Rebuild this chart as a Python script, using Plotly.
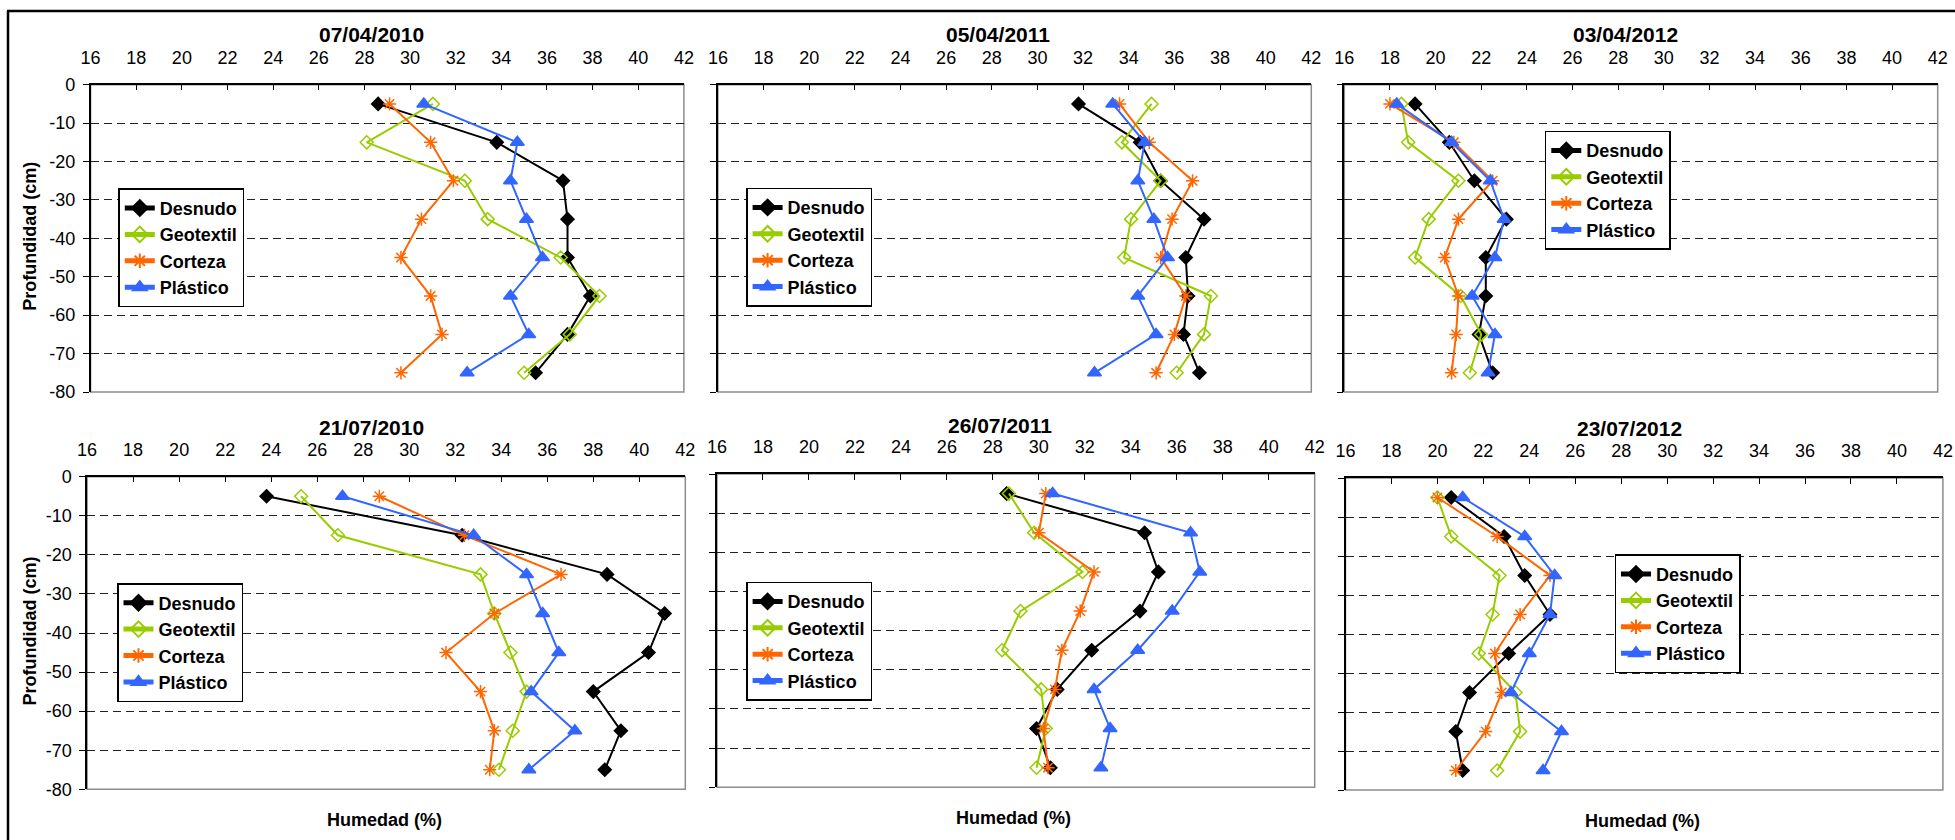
import plotly.graph_objects as go

W, H = 1955, 840

# ---------------- data ----------------
depth = [-5, -15, -25, -35, -45, -55, -65, -75]
dates = ["07/04/2010", "05/04/2011", "03/04/2012", "21/07/2010", "26/07/2011", "23/07/2012"]
series_names = ["Desnudo", "Geotextil", "Corteza", "Plástico"]
x_ticks = list(range(16, 43, 2))
y_ticks = list(range(0, -81, -10))

# 07/04/2010
p1_desnudo = [28.6, 33.8, 36.7, 36.9, 36.9, 37.9, 36.9, 35.5]
p1_geotextil = [31.0, 28.1, 32.4, 33.4, 36.6, 38.3, 37.0, 35.0]
p1_corteza = [29.1, 30.9, 31.9, 30.5, 29.6, 30.9, 31.4, 29.6]
p1_plastico = [30.6, 34.7, 34.4, 35.1, 35.8, 34.4, 35.2, 32.5]
# 05/04/2011
p2_desnudo = [31.8, 34.5, 35.4, 37.3, 36.5, 36.6, 36.4, 37.1]
p2_geotextil = [35.0, 33.7, 35.4, 34.1, 33.8, 37.6, 37.3, 36.1]
p2_corteza = [33.6, 34.9, 36.8, 35.9, 35.4, 36.5, 36.0, 35.2]
p2_plastico = [33.3, 34.7, 34.4, 35.1, 35.7, 34.4, 35.2, 32.5]
# 03/04/2012
p3_desnudo = [19.1, 20.6, 21.7, 23.1, 22.2, 22.2, 21.9, 22.5]
p3_geotextil = [18.5, 18.8, 21.0, 19.7, 19.1, 21.1, 22.0, 21.5]
p3_corteza = [18.0, 20.8, 22.5, 21.0, 20.4, 21.0, 20.9, 20.7]
p3_plastico = [18.3, 20.7, 22.4, 23.0, 22.6, 21.6, 22.6, 22.3]
# 21/07/2010
p4_desnudo = [23.8, 32.3, 38.6, 41.1, 40.4, 38.0, 39.2, 38.5]
p4_geotextil = [25.3, 26.9, 33.1, 33.7, 34.4, 35.1, 34.5, 33.9]
p4_corteza = [28.7, 32.4, 36.6, 33.7, 31.6, 33.1, 33.7, 33.5]
p4_plastico = [27.1, 32.8, 35.1, 35.8, 36.5, 35.3, 37.2, 35.2]
# 26/07/2011
p5_desnudo = [28.6, 34.6, 35.2, 34.4, 32.3, 30.8, 29.9, 30.5]
p5_geotextil = [28.7, 29.8, 31.9, 29.2, 28.4, 30.1, 30.3, 29.9]
p5_corteza = [30.3, 30.0, 32.4, 31.8, 31.0, 30.7, 30.2, 30.4]
p5_plastico = [30.6, 36.6, 37.0, 35.8, 34.3, 32.4, 33.1, 32.7]
# 23/07/2012
p6_desnudo = [20.6, 22.9, 23.8, 24.9, 23.1, 21.4, 20.8, 21.1]
p6_geotextil = [20.0, 20.6, 22.7, 22.4, 21.8, 23.4, 23.6, 22.6]
p6_corteza = [20.0, 22.6, 24.9, 23.6, 22.5, 22.8, 22.1, 20.8]
p6_plastico = [21.1, 23.8, 25.1, 24.9, 24.0, 23.2, 25.4, 24.6]

panel_data = [
    [p1_desnudo, p1_geotextil, p1_corteza, p1_plastico],
    [p2_desnudo, p2_geotextil, p2_corteza, p2_plastico],
    [p3_desnudo, p3_geotextil, p3_corteza, p3_plastico],
    [p4_desnudo, p4_geotextil, p4_corteza, p4_plastico],
    [p5_desnudo, p5_geotextil, p5_corteza, p5_plastico],
    [p6_desnudo, p6_geotextil, p6_corteza, p6_plastico],
]

# ---------------- styles / geometry (pixels) ----------------
FONT = "Liberation Sans, Arial, sans-serif"
styles = [
    dict(color="#000000", symbol="diamond", size=10),
    dict(color="#99CC00", symbol="diamond-open", size=10),
    dict(color="#FF6600", symbol="asterisk-open", size=11),
    dict(color="#3366FF", symbol="triangle-up", size=12),
]

# plot area: x0, x1, y0(top), y1(bottom); title center (x, y); legend top-left (x, y)
geom = [
    dict(x0=90.6, x1=683.9, y0=84.7, y1=392.0, tx=371, ty=35, lx=118.3, ly=188.3),
    dict(x0=717.9, x1=1311.3, y0=84.7, y1=392.0, tx=998, ty=35, lx=746.1, ly=187.7),
    dict(x0=1344.3, x1=1937.7, y0=84.7, y1=392.0, tx=1625, ty=35, lx=1544.8, ly=130.7),
    dict(x0=87.1, x1=685.3, y0=476.7, y1=789.3, tx=371, ty=427, lx=117.0, ly=583.0),
    dict(x0=717.0, x1=1314.7, y0=474.0, y1=787.3, tx=1000, ty=425, lx=746.1, ly=581.7),
    dict(x0=1345.5, x1=1942.9, y0=478.0, y1=790.0, tx=1629, ty=428, lx=1614.5, ly=554.3),
]


def fx(px):
    return px / W


def fy(py):
    return 1 - py / H


fig = go.Figure()
layout = dict(
    width=W, height=H,
    margin=dict(l=0, r=0, t=0, b=0),
    paper_bgcolor="white", plot_bgcolor="white",
    font=dict(family=FONT, size=18, color="black"),
    showlegend=True,
)
annotations = []
shapes = []

for i, g in enumerate(geom):
    n = i + 1
    xa = "x" if n == 1 else f"x{n}"
    ya = "y" if n == 1 else f"y{n}"
    lg = "legend" if n == 1 else f"legend{n}"
    for s, (name, vals) in enumerate(zip(series_names, panel_data[i])):
        st = styles[s]
        fig.add_trace(go.Scatter(
            x=vals, y=depth, name=name, mode="lines+markers",
            xaxis=xa, yaxis=ya, legend=lg,
            line=dict(color=st["color"], width=2),
            marker=dict(symbol=st["symbol"], size=st["size"], color=st["color"],
                        line=dict(color=st["color"], width=1.5)),
            cliponaxis=False,
        ))
    left = n in (1, 4)
    layout["xaxis" if n == 1 else f"xaxis{n}"] = dict(
        domain=[fx(g["x0"]), fx(g["x1"])], anchor=ya, side="top",
        range=[16, 42], tickvals=x_ticks, ticktext=[str(v) for v in x_ticks],
        showline=True, linecolor="black", linewidth=1.5,
        ticks="inside", ticklen=6, tickcolor="black", tickwidth=1,
        showgrid=False, zeroline=False, automargin=False,
        tickfont=dict(size=18, family=FONT), ticklabelstandoff=12,
    )
    layout["yaxis" if n == 1 else f"yaxis{n}"] = dict(
        domain=[fy(g["y1"]), fy(g["y0"])], anchor=xa,
        range=[-80, 0], tickvals=y_ticks, ticktext=[str(v) for v in y_ticks],
        showline=True, linecolor="black", linewidth=1.5,
        ticks="outside", ticklen=6, tickcolor="black", tickwidth=1,
        showticklabels=left, tickfont=dict(size=18, family=FONT), ticklabelstandoff=4,
        showgrid=True, gridcolor="#222222", gridwidth=1, griddash="8px,5px",
        zeroline=False, automargin=False,
    )
    layout[lg] = dict(
        x=fx(g["lx"]), y=fy(g["ly"]), xanchor="left", yanchor="top",
        bgcolor="white", bordercolor="black", borderwidth=1.5,
        font=dict(size=18, family=FONT, weight="bold"),
        itemsizing="constant",
    )
    # gray plot border (right/bottom)
    shapes.append(dict(type="rect", xref="paper", yref="paper",
                       x0=fx(g["x0"]), x1=fx(g["x1"]), y0=fy(g["y1"]), y1=fy(g["y0"]),
                       line=dict(color="#8c8c8c", width=1.5), layer="below"))
    annotations.append(dict(text=f"<b>{dates[i]}</b>", x=fx(g["tx"]), y=fy(g["ty"]),
                            xref="paper", yref="paper", showarrow=False,
                            xanchor="center", yanchor="middle",
                            font=dict(size=21, family=FONT, color="black")))
    if n >= 4:
        annotations.append(dict(text="<b>Humedad (%)</b>",
                                x=fx((g["x0"] + g["x1"]) / 2 - 2), y=fy(g["y1"] + 31),
                                xref="paper", yref="paper", showarrow=False,
                                xanchor="center", yanchor="middle",
                                font=dict(size=18, family=FONT, color="black")))
    if left:
        annotations.append(dict(text="<b>Profundidad (cm)</b>", textangle=-90,
                                x=fx(30.4), y=fy((g["y0"] + g["y1"]) / 2 - 2),
                                xref="paper", yref="paper", showarrow=False,
                                xanchor="center", yanchor="middle",
                                font=dict(size=18, family=FONT, color="black")))

# outer frame (top and left)
shapes.append(dict(type="line", xref="paper", yref="paper",
                   x0=fx(7), x1=1, y0=fy(11), y1=fy(11),
                   line=dict(color="black", width=2.5)))
shapes.append(dict(type="line", xref="paper", yref="paper",
                   x0=fx(8), x1=fx(8), y0=fy(11), y1=0,
                   line=dict(color="black", width=2.5)))

layout["annotations"] = annotations
layout["shapes"] = shapes
fig.update_layout(**layout)
fig.write_html(
    "out.html",
    config={"displayModeBar": False},
    post_script="document.body.style.margin='0';document.body.style.padding='0';",
)
